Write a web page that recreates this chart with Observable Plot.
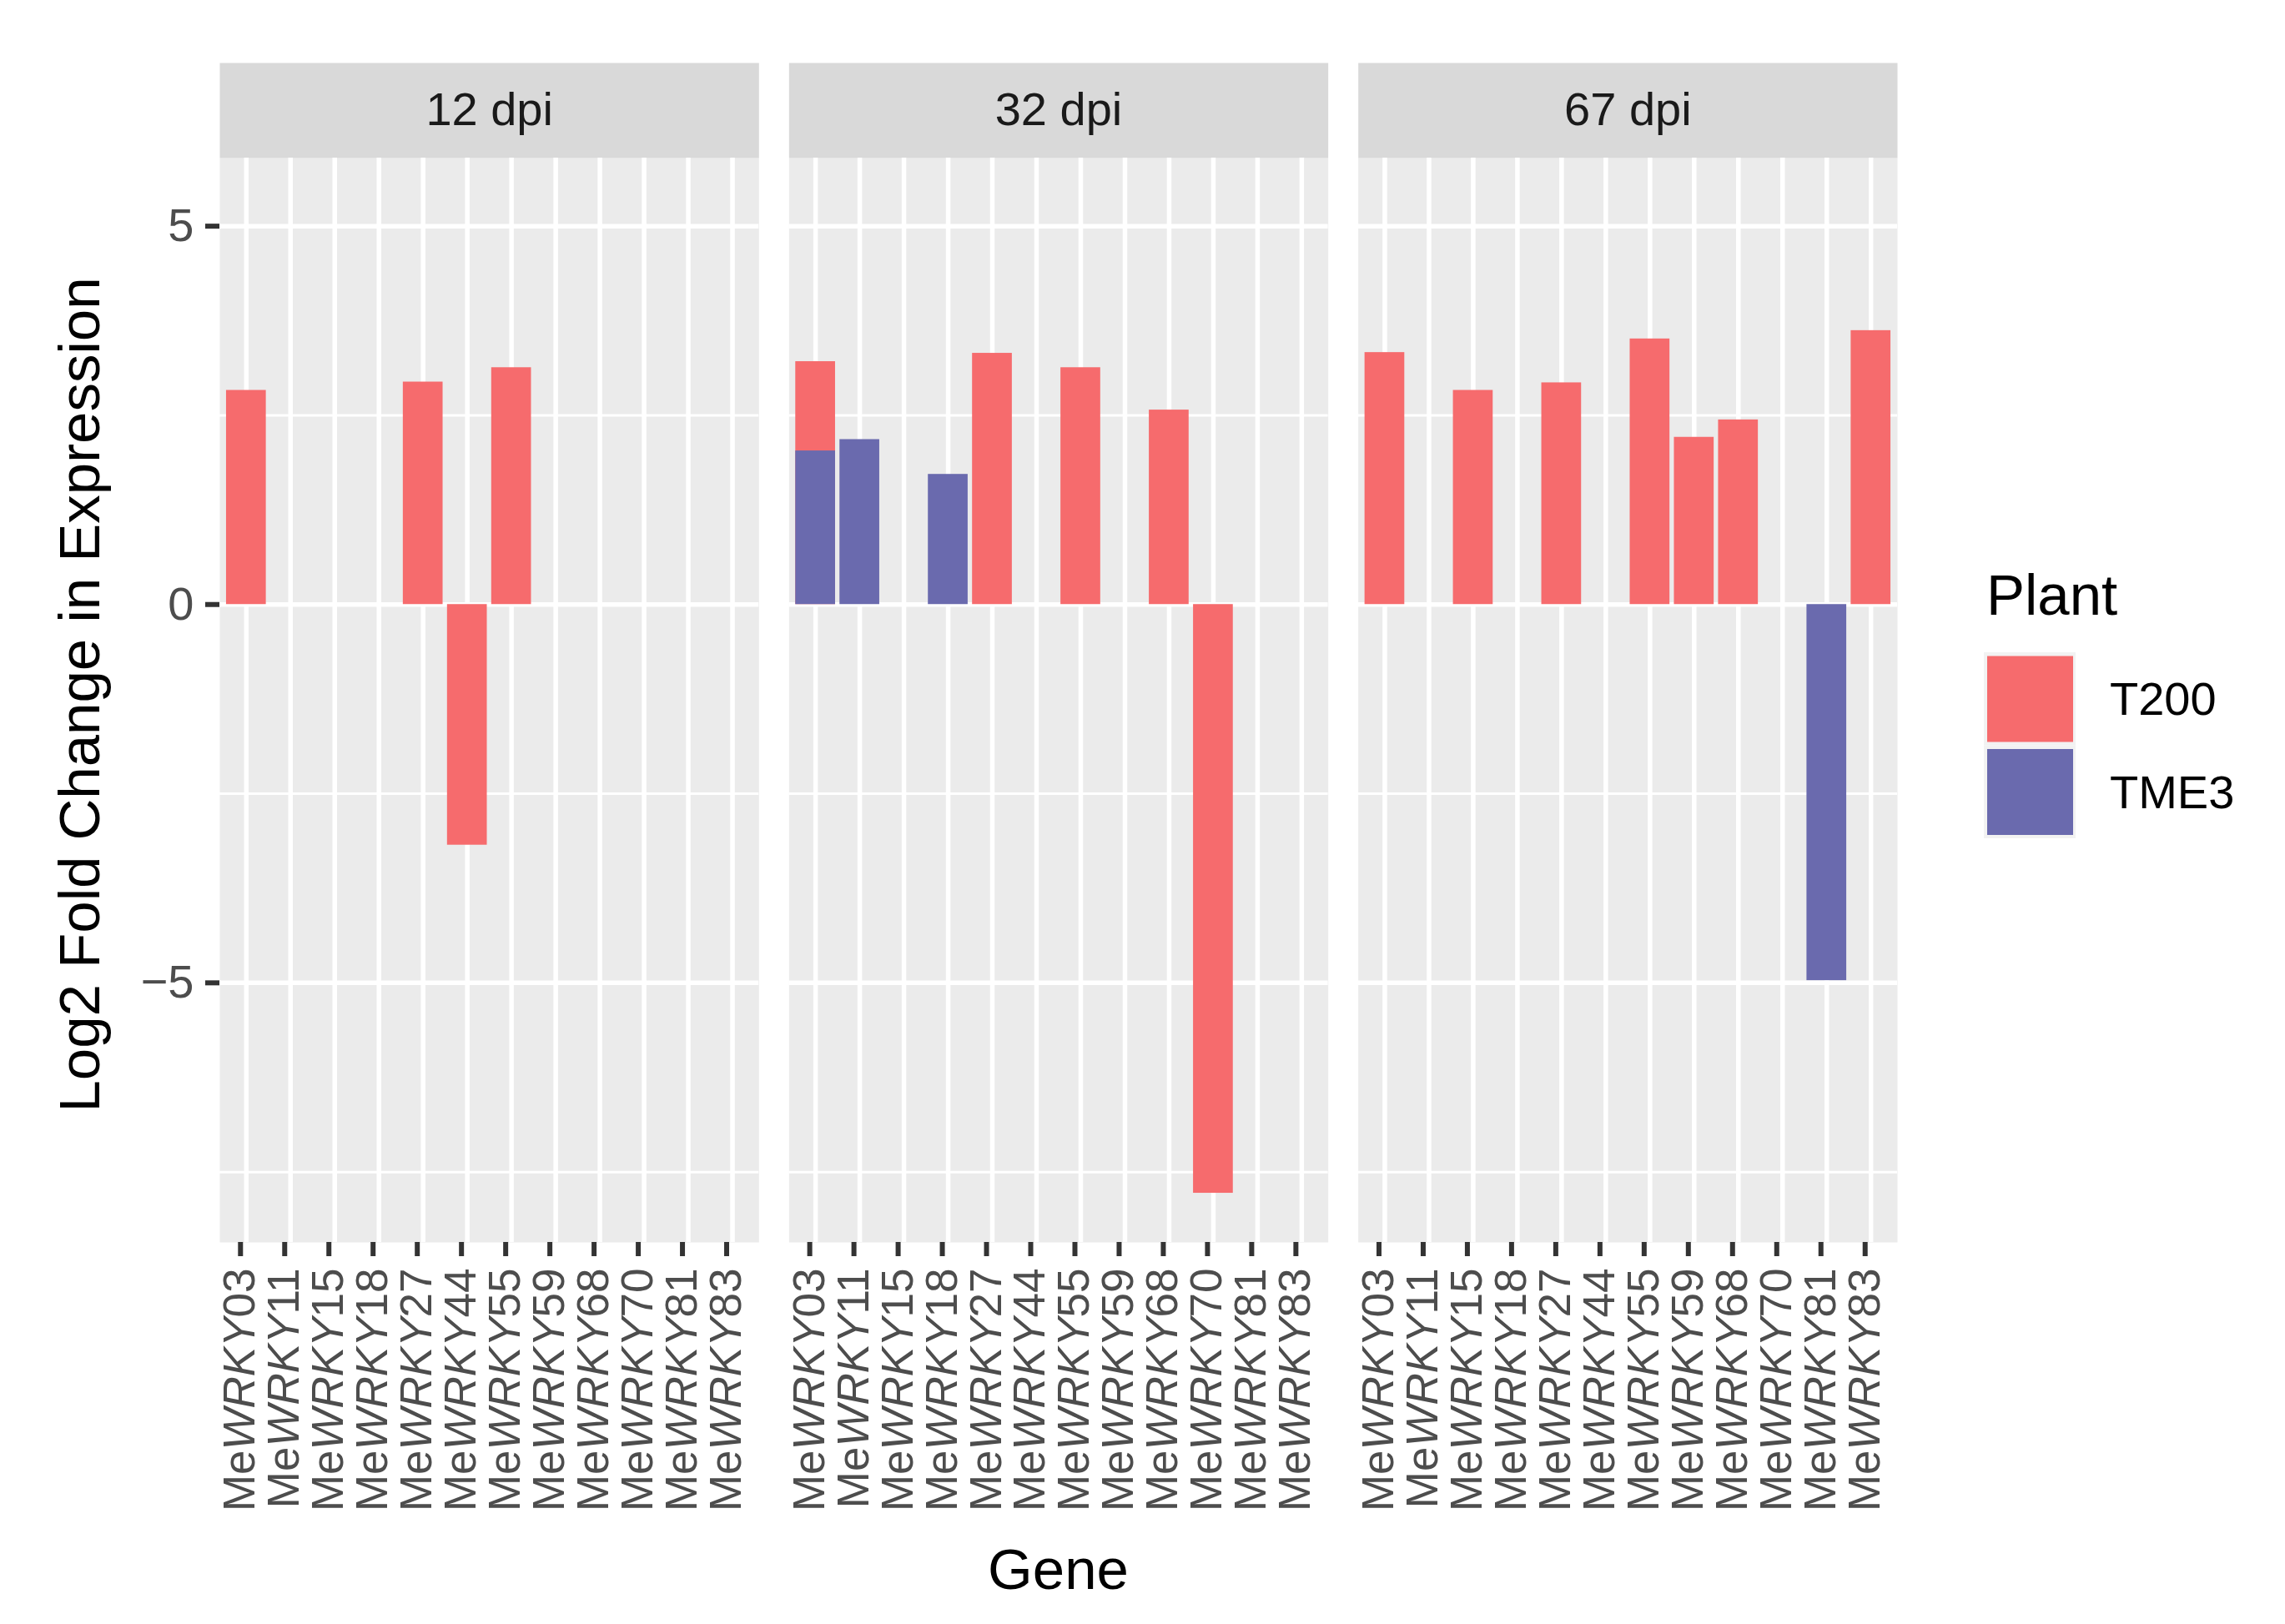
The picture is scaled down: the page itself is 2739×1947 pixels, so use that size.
<!DOCTYPE html>
<html><head><meta charset="utf-8">
<script src="https://cdn.jsdelivr.net/npm/d3@7"></script>
<script src="https://cdn.jsdelivr.net/npm/@observablehq/plot@0.6"></script>
<style>body{margin:0;background:#fff}#wrap{position:relative;width:2739px;height:1947px}</style>
</head><body><div id="wrap"></div>
<script>
// ---- data ----
const panels = ["12 dpi", "32 dpi", "67 dpi"];
const genes = ["MeWRKY03","MeWRKY11","MeWRKY15","MeWRKY18","MeWRKY27","MeWRKY44","MeWRKY55","MeWRKY59","MeWRKY68","MeWRKY70","MeWRKY81","MeWRKY83"];
const plants = ["T200", "TME3"];
const plantColors = ["#F66B6D", "#6A6AAE"];
// log2 fold change per gene (null = no bar)
const t200_12dpi = [2.83, null, null, null, 2.94, -3.18, 3.13, null, null, null, null, null];
const tme3_12dpi = [null, null, null, null, null, null, null, null, null, null, null, null];
const t200_32dpi = [3.21, null, null, null, 3.32, null, 3.13, null, 2.57, -7.78, null, null];
const tme3_32dpi = [2.03, 2.18, null, 1.72, null, null, null, null, null, null, null, null];
const t200_67dpi = [3.33, null, 2.83, null, 2.93, null, 3.51, 2.21, 2.44, null, null, 3.62];
const tme3_67dpi = [null, null, null, null, null, null, null, null, null, null, -4.97, null];
const yMajorTicks = [-5, 0, 5];
const yMinorTicks = [-7.5, -2.5, 2.5];
const yDomain = [-8.43, 5.9];
const yTitle = "Log2 Fold Change in Expression";
const xTitle = "Gene";
const legendTitle = "Plant";

const series = {
  "T200": [t200_12dpi, t200_32dpi, t200_67dpi],
  "TME3": [tme3_12dpi, tme3_32dpi, tme3_67dpi]
};
const rows = [];
plants.forEach(pl => series[pl].forEach((vals, pi) => vals.forEach((v, gi) => {
  if (v != null) rows.push({panel: panels[pi], gene: genes[gi], plant: pl, value: v});
})));

// ---- layout ----
const FONT = "'Liberation Sans', Arial, Helvetica, sans-serif";
const W = 2739, H = 1947, mL = 263, mR = 465, mT = 189, mB = 458;
const innerH = H - mT - mB;
const stripH = 114;
const SMALL = 56, TITLE = 69;

const chart = Plot.plot({
  width: W, height: H,
  marginLeft: mL, marginRight: mR, marginTop: mT, marginBottom: mB,
  style: {fontFamily: FONT, background: "white", overflow: "visible"},
  fx: {domain: panels, paddingInner: 0.0528, paddingOuter: 0, round: false, axis: null, label: null},
  x: {type: "band", domain: genes, paddingInner: 0.1, paddingOuter: 0.15, round: false, axis: null, label: null},
  y: {domain: yDomain, axis: null, label: null},
  color: {domain: plants, range: plantColors},
  marks: [
    Plot.frame({fill: "#EBEBEB", stroke: "none"}),
    Plot.frame({fill: "#D9D9D9", stroke: "none", insetTop: -stripH, insetBottom: innerH}),
    Plot.text(panels, {fx: d => d, text: d => d, frameAnchor: "top", dy: -stripH / 2, lineAnchor: "middle", fontSize: SMALL, fill: "#1A1A1A"}),
    Plot.gridY({ticks: yMinorTicks, stroke: "white", strokeOpacity: 1, strokeWidth: 3}),
    Plot.gridX({stroke: "white", strokeOpacity: 1, strokeWidth: 5.5}),
    Plot.gridY({ticks: yMajorTicks, stroke: "white", strokeOpacity: 1, strokeWidth: 5.5}),
    Plot.barY(rows, {fx: "panel", x: "gene", y1: 0, y2: "value", fill: "plant"}),
    Plot.axisY({ticks: yMajorTicks, tickSize: 17, tickPadding: 14, fontSize: SMALL, fill: "#4D4D4D", stroke: "#333333", strokeWidth: 6, label: null}),
    Plot.axisX({tickRotate: -90, tickSize: 17, tickPadding: 14, fontSize: 53, fill: "#4D4D4D", stroke: "#333333", strokeWidth: 6, label: null, dx: -7})
  ]
});
document.getElementById("wrap").appendChild(chart);

const svg = d3.select(chart);
// italic WRKY in tick labels
svg.selectAll('g[aria-label="x-axis tick label"] text').each(function () {
  const m = this.textContent.match(/^(Me)(WRKY)(\d+)$/);
  if (!m) return;
  const s = d3.select(this);
  s.text(null);
  s.append("tspan").text(m[1]);
  s.append("tspan").attr("font-style", "italic").text(m[2]);
  s.append("tspan").text(m[3]);
});

// axis titles
svg.append("text").attr("transform", "translate(119,833) rotate(-90)")
  .attr("text-anchor", "middle").attr("font-size", TITLE).attr("fill", "#000").text(yTitle);
svg.append("text").attr("x", (mL + (W - mR)) / 2).attr("y", 1905)
  .attr("text-anchor", "middle").attr("font-size", TITLE).attr("fill", "#000").text(xTitle);

// legend
const lg = svg.append("g").attr("aria-label", "legend").attr("text-anchor", "start");
lg.append("text").attr("x", 2381).attr("y", 737).attr("text-anchor", "start").attr("font-size", TITLE).attr("fill", "#000").text(legendTitle);
plants.forEach((p, i) => {
  const y0 = 782 + i * 111.5;
  lg.append("rect").attr("x", 2378).attr("y", y0).attr("width", 110).attr("height", 111.5).attr("fill", "#F2F2F2");
  lg.append("rect").attr("x", 2382).attr("y", y0 + 4.5).attr("width", 103).attr("height", 103).attr("fill", plantColors[i]);
  lg.append("text").attr("x", 2529).attr("y", y0 + 55.75).attr("dy", "0.35em").attr("text-anchor", "start")
    .attr("font-size", SMALL).attr("fill", "#000").text(p);
});
</script>
</body></html>
